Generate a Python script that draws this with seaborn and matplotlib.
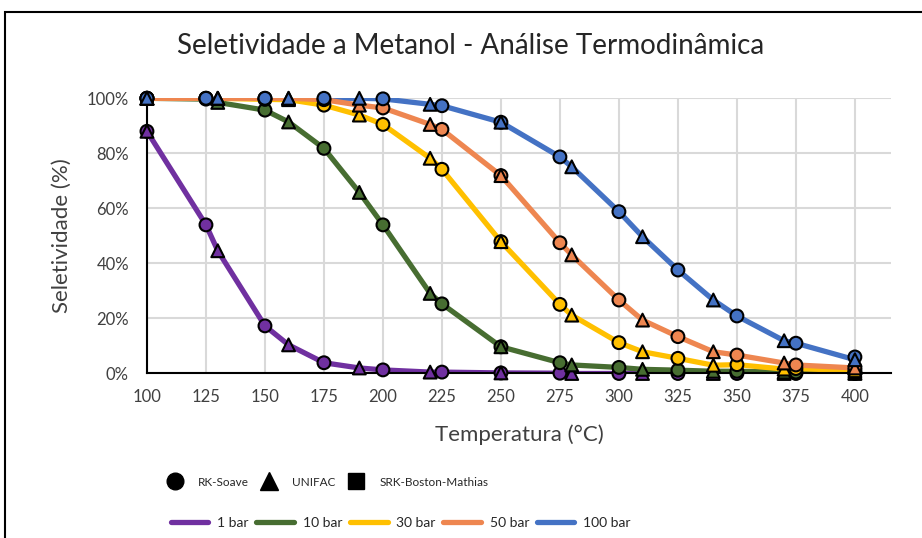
import pandas as pd
import matplotlib.pyplot as plt
import seaborn as sns
from matplotlib.lines import Line2D
from matplotlib.patches import Rectangle
from matplotlib.ticker import PercentFormatter

sns.set_style("white")
plt.rcParams['font.family'] = ['Lato', 'DejaVu Sans']

# Temperatures (°C) of each model's points
temp_rk = [100, 125, 150, 175, 200, 225, 250, 275, 300, 325, 350, 375, 400]
temp_unifac = [100, 130, 160, 190, 220, 250, 280, 310, 340, 370, 400]

pressures = ['1 bar', '10 bar', '30 bar', '50 bar', '100 bar']
colors = ['#7030A0', '#476D31', '#FFC000', '#EE8650', '#4472C4']

# Selectivity (%) - RK-Soave (circles)
rk_1bar = [88, 54, 17.3, 3.9, 1.3, 0.5, 0.2, 0.1, 0, 0, 0, 0, 0]
rk_10bar = [100, 99.7, 95.7, 81.8, 54, 25.3, 9.7, 3.9, 2.2, 1.2, 0.8, 0.5, 0.3]
rk_30bar = [100, 100, 99.6, 97.5, 90.5, 74.2, 47.9, 25.1, 11.2, 5.5, 3.2, 1.8, 1.2]
rk_50bar = [100, 100, 100, 99.5, 96.5, 88.7, 71.9, 47.5, 26.7, 13.4, 6.7, 3.1, 2.2]
rk_100bar = [100, 100, 100, 100, 99.8, 97.3, 91.3, 78.7, 58.8, 37.6, 20.9, 11.0, 6.0]

# Selectivity (%) - UNIFAC (triangles)
uni_1bar = [88, 44.6, 10.4, 2.0, 0.5, 0.2, 0, 0, 0, 0, 0]
uni_10bar = [100, 98.5, 91.4, 65.8, 29.1, 9.7, 3.1, 1.5, 0.8, 0.5, 0.3]
uni_30bar = [100, 100, 99.5, 93.9, 78.2, 47.9, 21.2, 7.9, 3.0, 1.6, 1.0]
uni_50bar = [100, 100, 100, 97.5, 90.5, 71.9, 43.1, 19.4, 7.9, 3.8, 2.0]
uni_100bar = [100, 100, 100, 100, 97.8, 91.3, 75.1, 49.7, 26.7, 11.9, 5.0]

rk_vals = [rk_1bar, rk_10bar, rk_30bar, rk_50bar, rk_100bar]
uni_vals = [uni_1bar, uni_10bar, uni_30bar, uni_50bar, uni_100bar]

rows = []
for p, rk, un in zip(pressures, rk_vals, uni_vals):
    for t, s in zip(temp_rk, rk):
        rows.append((p, 'RK-Soave', t, s))
    for t, s in zip(temp_unifac, un):
        rows.append((p, 'UNIFAC', t, s))
df = pd.DataFrame(rows, columns=['pressao', 'modelo', 'T', 'S'])
palette = dict(zip(pressures, colors))

fig = plt.figure(figsize=(9.22, 5.38), dpi=100)
ax = fig.add_axes([0.1594, 0.3058, 0.807, 0.5115])

# curves through both models' points
sns.lineplot(data=df.sort_values(['pressao', 'T']), x='T', y='S', hue='pressao',
             palette=palette, estimator=None, sort=True, lw=3.8,
             legend=False, ax=ax, zorder=2)

sns.scatterplot(data=df, x='T', y='S', hue='pressao', style='modelo',
                markers={'RK-Soave': 'o', 'UNIFAC': '^'}, palette=palette,
                s=85, edgecolor='black', linewidth=1.5, legend=False,
                clip_on=False, zorder=3, ax=ax)

ax.set_xlim(100, 415.3)
ax.set_ylim(0, 100)
ax.set_xticks(range(100, 401, 25))
ax.set_yticks(range(0, 101, 20))
ax.yaxis.set_major_formatter(PercentFormatter(100, decimals=0))
ax.grid(True, color='#d9d9d9', lw=1.5)
ax.set_axisbelow(True)
for s in ['top', 'right']:
    ax.spines[s].set_visible(False)
for s in ['left', 'bottom']:
    ax.spines[s].set_color('black')
    ax.spines[s].set_linewidth(1.5)
ax.tick_params(length=0, labelsize=12, labelcolor='#404040')
ax.tick_params(axis='x', pad=11)
ax.tick_params(axis='y', pad=13)

ax.set_xlabel('Temperatura (°C)', fontsize=16, color='#404040', labelpad=14)
ax.set_ylabel('Seletividade (%)', fontsize=16, color='#404040', labelpad=11)
fig.text(471 / 922, 1 - 46 / 538, 'Seletividade a Metanol - Análise Termodinâmica',
         ha='center', va='center', fontsize=20, color='#262626')

# legends
mk_handles = [
    Line2D([], [], marker='o', ls='none', ms=12, color='black'),
    Line2D([], [], marker='^', ls='none', ms=13, color='black'),
    Line2D([], [], marker='s', ls='none', ms=11, color='black'),
]
fig.legend(mk_handles, ['RK-Soave', 'UNIFAC', 'SRK-Boston-Mathias'], ncol=3,
           loc='center left', bbox_to_anchor=(160 / 922, 1 - 482 / 538),
           frameon=False, fontsize=8.5, borderpad=0, handlelength=1.5,
           handletextpad=1.2, columnspacing=1.0)

ln_handles = [Line2D([], [], color=c, lw=3.8) for c in colors]
fig.legend(ln_handles, pressures, ncol=5,
           loc='center left', bbox_to_anchor=(164 / 922, 1 - 523 / 538),
           frameon=False, fontsize=10, borderpad=0, handlelength=2.7,
           handletextpad=0.64, columnspacing=0.55)

# chart border (cropped at right and bottom)
fig.patches.append(Rectangle((5 / 922, -0.1), 1.2, 1.1 - 12 / 538,
                             transform=fig.transFigure, fill=False,
                             lw=1.5, ec='black'))

fig.savefig('out.png', dpi=100)
